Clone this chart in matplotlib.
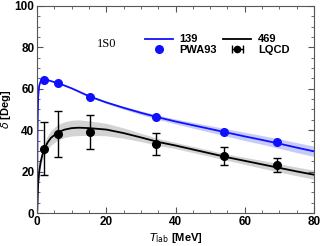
import matplotlib
matplotlib.use("Agg")
import matplotlib.pyplot as plt
from matplotlib.ticker import MultipleLocator
import numpy as np

# curve for m_pi = 139 MeV
x_139 = [0, 0.1, 0.3, 0.6, 1, 1.5, 2, 3, 4, 6, 8, 10, 15, 20, 25, 30, 35,
         40, 45, 50, 55, 60, 65, 70, 75, 80]
y_139 = [0, 38, 56, 61.5, 63.5, 64.3, 64.5, 64.2, 63.7, 62.7, 61.5, 60.2,
         56.4, 53.4, 50.8, 48.4, 46.2, 44.2, 42.4, 40.6, 38.8, 37.0, 35.3,
         33.5, 31.6, 29.8]
err_139 = [0, 0, 0.1, 0.1, 0.1, 0.1, 0.1, 0.1, 0.2, 0.2, 0.2, 0.3, 0.4, 0.5,
           0.7, 0.9, 1.0, 1.2, 1.4, 1.6, 1.8, 2.0, 2.1, 2.3, 2.4, 2.5]

# curve for m_pi = 469 MeV
x_469 = [0, 0.3, 0.6, 1, 1.5, 2, 3, 4, 6, 8, 10, 12, 15, 20, 25, 30, 35,
         40, 45, 50, 55, 60, 65, 70, 75, 80]
y_469 = [0, 14, 20, 24.5, 28, 30.5, 34, 36.3, 39, 40.3, 41, 41.2, 41.0,
         40.3, 38.6, 36.5, 34.3, 32.6, 30.7, 28.8, 26.9, 25.2, 23.5, 21.8,
         20.1, 18.5]
err_469 = [0, 1.2, 1.6, 2, 2.5, 3, 3.3, 3.5, 3.8, 3.8, 3.8, 3.8, 3.5, 3.0,
           2.5, 2.0, 1.7, 1.5, 1.5, 1.5, 1.5, 1.7, 1.9, 2.0, 2.1, 2.2]

# PWA93 and lattice QCD points
t_pts = [2.1, 6.1, 15.3, 34.4, 54.0, 69.3]
pwa93 = [64.2, 62.6, 56.2, 46.4, 39.1, 34.3]
lqcd = [31.0, 38.2, 39.1, 33.3, 27.7, 23.3]
lqcd_err = [12.8, 11.3, 8.4, 5.3, 4.3, 3.3]

plt.rcParams['font.family'] = ['Liberation Sans', 'DejaVu Sans']

fig = plt.figure(figsize=(3.2, 2.46), dpi=100)
ax = fig.add_axes([0.116, 0.134, 0.865, 0.842])

y469 = np.array(y_469)
e469 = np.array(err_469)
y139 = np.array(y_139)
e139 = np.array(err_139)

ax.fill_between(x_469, y469 - e469, y469 + e469, color='#c9c9c9', lw=0, alpha=0.8)
ax.fill_between(x_139, y139 - e139, y139 + e139, color='#b9bff5', lw=0, alpha=0.8)
l469, = ax.plot(x_469, y_469, color='black', lw=1.3)
l139, = ax.plot(x_139, y_139, color='#1010ff', lw=1.3)
pwa, = ax.plot(t_pts, pwa93, 'o', color='#1010ff', ms=5.5)
ax.errorbar(t_pts, lqcd, yerr=lqcd_err, fmt='o', color='black', ms=5.5,
            capsize=3, elinewidth=1, capthick=1)
# legend shows the lattice points with a horizontal bar
proxy = ax.errorbar([np.nan], [np.nan], xerr=[1], fmt='o', color='black',
                    ms=4.5, capsize=3, elinewidth=1, capthick=1)

ax.set_xlim(0, 80)
ax.set_ylim(0, 100)
ax.xaxis.set_major_locator(MultipleLocator(20))
ax.xaxis.set_minor_locator(MultipleLocator(5))
ax.yaxis.set_major_locator(MultipleLocator(20))
ax.yaxis.set_minor_locator(MultipleLocator(5))
ax.tick_params(which='both', direction='in', top=True, right=True,
               labelsize=8.5, pad=2, color='#555555')
ax.tick_params(which='major', length=4)
ax.tick_params(which='minor', length=2)
for lab in ax.get_xticklabels() + ax.get_yticklabels():
    lab.set_fontweight('bold')
for s in ax.spines.values():
    s.set_color('#555555')

ax.set_xlabel(r'$T_\mathrm{lab}$ [MeV]', fontsize=8, fontweight='bold', labelpad=2)
ax.set_ylabel(r'$\delta$ [Deg]', fontsize=8, fontweight='bold')
ax.yaxis.set_label_coords(-0.088, 0.5)

ax.text(20, 81.5, '1S0', family='Liberation Serif', fontsize=9,
        ha='center', va='center')

ax.legend([l139, pwa, l469, proxy], ['139', 'PWA93', '469', 'LQCD'], ncol=2,
          loc='upper right', bbox_to_anchor=(0.94, 0.90), frameon=False,
          prop={'weight': 'bold', 'size': 8},
          handlelength=2.5, handletextpad=0.6, columnspacing=0.6,
          labelspacing=0.05, borderpad=0.2)

fig.savefig('out.png', dpi=100)
